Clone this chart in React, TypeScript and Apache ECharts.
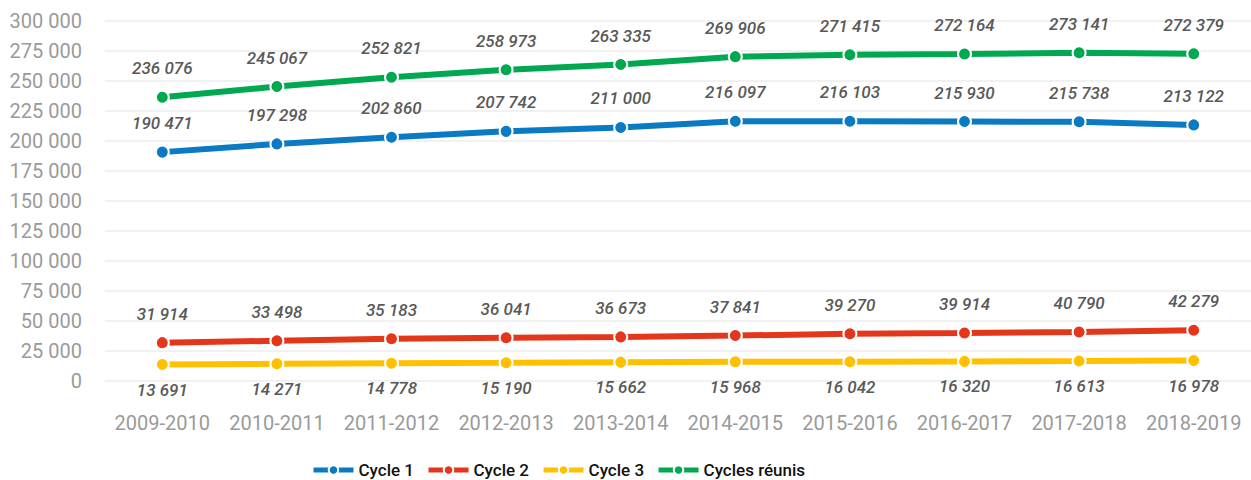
import React, { useEffect, useRef } from "react";
import * as echarts from "echarts";

const categories = ["2009-2010", "2010-2011", "2011-2012", "2012-2013", "2013-2014", "2014-2015", "2015-2016", "2016-2017", "2017-2018", "2018-2019"];
const cycle1 = [190471, 197298, 202860, 207742, 211000, 216097, 216103, 215930, 215738, 213122];
const cycle2 = [31914, 33498, 35183, 36041, 36673, 37841, 39270, 39914, 40790, 42279];
const cycle3 = [13691, 14271, 14778, 15190, 15662, 15968, 16042, 16320, 16613, 16978];
const cyclesReunis = [236076, 245067, 252821, 258973, 263335, 269906, 271415, 272164, 273141, 272379];

const fmt = (v: number) => String(Math.round(v)).replace(/\B(?=(\d{3})+(?!\d))/g, " ");

export default function App() {
  const ref = useRef<HTMLDivElement>(null);
  useEffect(() => {
    document.body.style.margin = "0";
    const chart = echarts.init(ref.current!, undefined, { renderer: "svg" });
    const mk = (name: string, data: number[], color: string, pos: "top" | "bottom") => ({
      name,
      type: "line",
      data,
      symbol: "circle",
      symbolSize: 13,
      lineStyle: { width: 6, color },
      itemStyle: { color, borderColor: "#fff", borderWidth: 2 },
      label: {
        show: true,
        position: pos,
        distance: pos === "top" ? 13 : 9,
        formatter: (p: any) => fmt(p.value),
        fontFamily: "Roboto",
        fontStyle: "italic",
        fontWeight: 500,
        fontSize: 17,
        color: "#595959",
      },
    });
    chart.setOption({
      animation: false,
      grid: { left: 105, top: 20.5, width: 1156, height: 360.5, containLabel: false },
      xAxis: {
        type: "category",
        data: categories,
        boundaryGap: true,
        axisLine: { show: false },
        axisTick: { show: false },
        axisLabel: { interval: 0, fontFamily: "Roboto", fontSize: 20, color: "#9a9a9a", margin: 32 },
      },
      yAxis: {
        type: "value",
        min: 0,
        max: 300000,
        interval: 25000,
        axisLine: { show: false },
        axisTick: { show: false },
        splitLine: { lineStyle: { color: "#ececec", width: 1.5 } },
        axisLabel: {
          fontFamily: "Roboto",
          fontSize: 20,
          color: "#9a9a9a",
          margin: 23,
          formatter: (v: number) => fmt(v),
        },
      },
      legend: {
        top: 459,
        left: 311,
        padding: 0,
        itemWidth: 40,
        itemHeight: 12,
        itemGap: 12,
        lineStyle: { width: 5 },
        textStyle: { fontFamily: "Roboto", fontSize: 17, fontWeight: 500, color: "#111", lineHeight: 22 },
        data: ["Cycle 1", "Cycle 2", "Cycle 3", "Cycles réunis"],
      },
      series: [
        mk("Cycle 1", cycle1, "#0a7ac2", "top"),
        mk("Cycle 2", cycle2, "#e3361a", "top"),
        mk("Cycle 3", cycle3, "#ffc000", "bottom"),
        mk("Cycles réunis", cyclesReunis, "#00a850", "top"),
      ],
    });
    return () => chart.dispose();
  }, []);
  return <div ref={ref} style={{ width: 1251, height: 480 }} />;
}
